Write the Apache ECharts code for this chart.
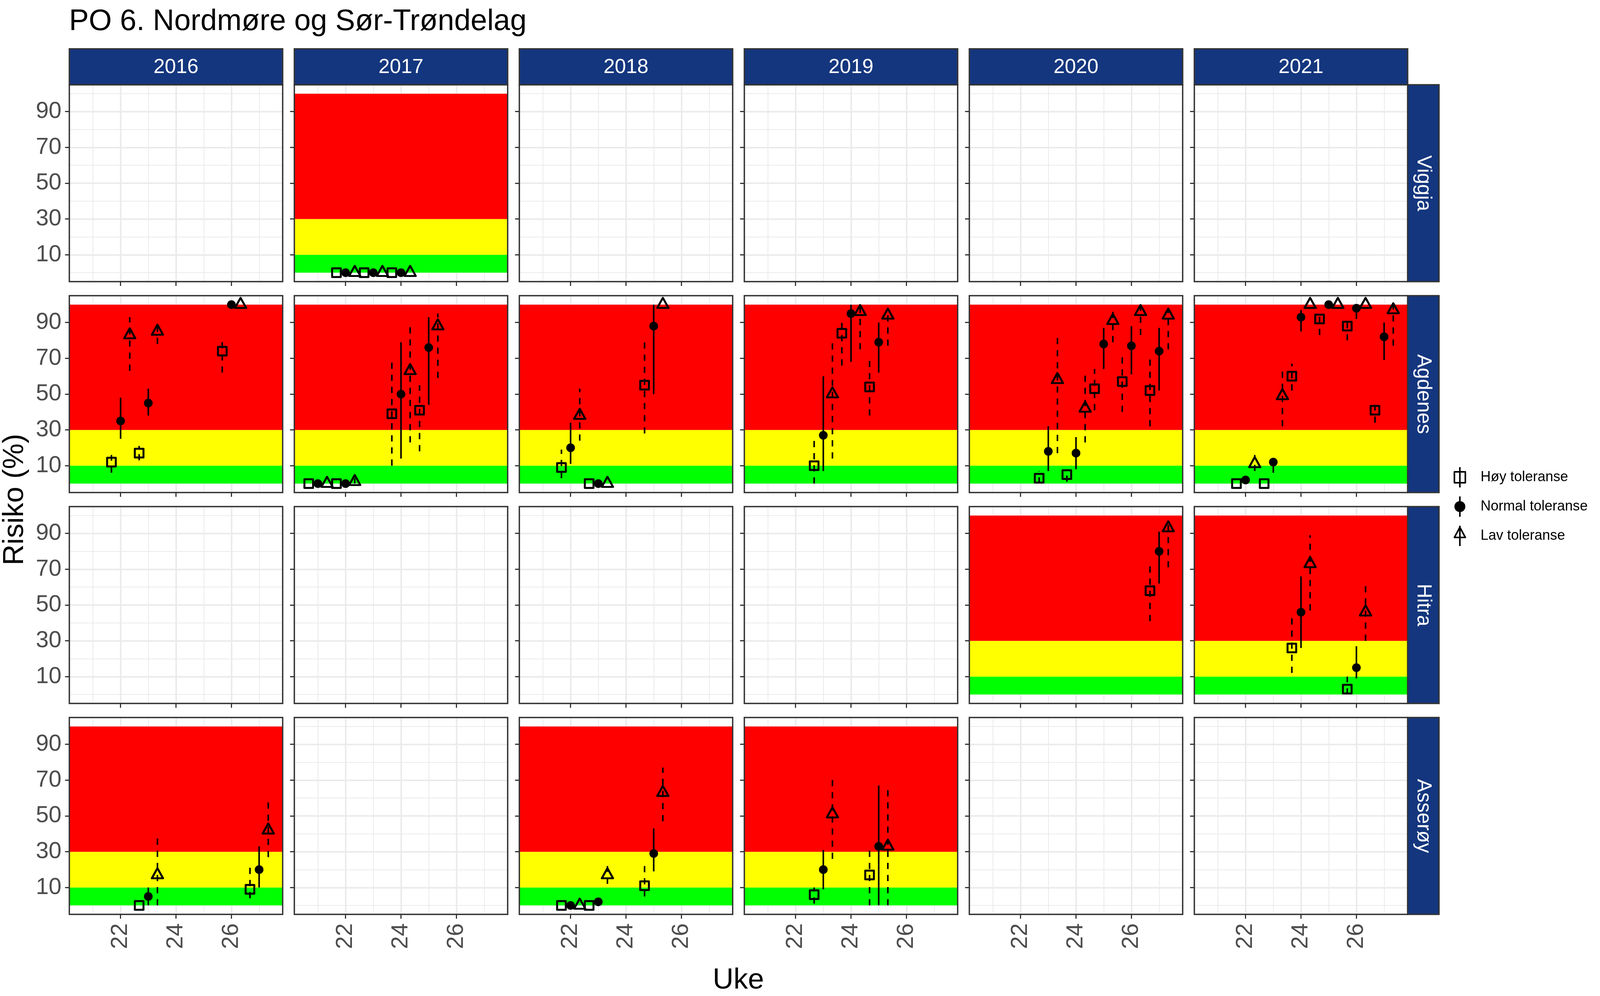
<!DOCTYPE html>
<html lang="no">
<head>
    <meta charset="UTF-8" />
    <title>PO 6. Nordmøre og Sør-Trøndelag</title>
    <script src="https://cdn.jsdelivr.net/npm/echarts@6/dist/echarts.min.js"></script>
    <style>
        html, body { margin: 0; padding: 0; background: #fff; overflow: hidden; }
        #chart { width: 100vw; height: 100vh; }
    </style>
</head>
<body>
<div id="chart"></div>
<script>
    const years = [2016, 2017, 2018, 2019, 2020, 2021];
    const sites = ['Viggja', 'Agdenes', 'Hitra', 'Asserøy'];
    const yMajor = [10, 30, 50, 70, 90];
    const yMinor = [0, 20, 40, 60, 80, 100];
    const xMajor = [22, 24, 26];
    const xMinor = [21, 23, 25, 27];

    // risk zones, bottom to top
    const zoneFrom = [0, 10, 30];
    const zoneTo = [10, 30, 100];
    const zoneColors = ['#00FF00', '#FFFF00', '#FF0000'];
    // panels that have the zones drawn
    const zonePanels = [
        ['Viggja', 2017],
        ['Agdenes', 2016], ['Agdenes', 2017], ['Agdenes', 2018], ['Agdenes', 2019], ['Agdenes', 2020], ['Agdenes', 2021],
        ['Hitra', 2020], ['Hitra', 2021],
        ['Asserøy', 2016], ['Asserøy', 2018], ['Asserøy', 2019]
    ];

    // [site, year, week, risk, low, high]
    const hoyRows = [
        ['Viggja', 2017, 22, 0, 0, 0], ['Viggja', 2017, 23, 0, 0, 0], ['Viggja', 2017, 24, 0, 0, 0],
        ['Agdenes', 2016, 22, 12, 6, 16], ['Agdenes', 2016, 23, 17, 13, 21], ['Agdenes', 2016, 26, 74, 62, 80],
        ['Agdenes', 2017, 21, 0, 0, 0], ['Agdenes', 2017, 22, 0, 0, 0], ['Agdenes', 2017, 24, 39, 10, 69], ['Agdenes', 2017, 25, 41, 18, 55],
        ['Agdenes', 2018, 22, 9, 3, 19], ['Agdenes', 2018, 23, 0, 0, 0], ['Agdenes', 2018, 25, 55, 28, 80],
        ['Agdenes', 2019, 23, 10, 0, 24], ['Agdenes', 2019, 24, 84, 66, 90], ['Agdenes', 2019, 25, 54, 38, 69],
        ['Agdenes', 2020, 23, 3, 0, 7], ['Agdenes', 2020, 24, 5, 1, 8], ['Agdenes', 2020, 25, 53, 41, 64], ['Agdenes', 2020, 26, 57, 40, 71], ['Agdenes', 2020, 27, 52, 32, 71],
        ['Agdenes', 2021, 22, 0, 0, 0], ['Agdenes', 2021, 23, 0, 0, 0], ['Agdenes', 2021, 24, 60, 52, 67], ['Agdenes', 2021, 25, 92, 83, 96], ['Agdenes', 2021, 26, 88, 80, 92], ['Agdenes', 2021, 27, 41, 34, 44],
        ['Hitra', 2020, 27, 58, 41, 72],
        ['Hitra', 2021, 24, 26, 12, 44], ['Hitra', 2021, 26, 3, 0, 10],
        ['Asserøy', 2016, 23, 0, 0, 0], ['Asserøy', 2016, 27, 9, 4, 21],
        ['Asserøy', 2018, 22, 0, 0, 0], ['Asserøy', 2018, 23, 0, 0, 0], ['Asserøy', 2018, 25, 11, 5, 22],
        ['Asserøy', 2019, 23, 6, 1, 10], ['Asserøy', 2019, 25, 17, 0, 31]
    ];
    const normalRows = [
        ['Viggja', 2017, 22, 0, 0, 0], ['Viggja', 2017, 23, 0, 0, 0], ['Viggja', 2017, 24, 0, 0, 0],
        ['Agdenes', 2016, 22, 35, 25, 48], ['Agdenes', 2016, 23, 45, 38, 53], ['Agdenes', 2016, 26, 100, 100, 100],
        ['Agdenes', 2017, 21, 0, 0, 0], ['Agdenes', 2017, 22, 0, 0, 0], ['Agdenes', 2017, 24, 50, 14, 79], ['Agdenes', 2017, 25, 76, 44, 93],
        ['Agdenes', 2018, 22, 20, 11, 34], ['Agdenes', 2018, 23, 0, 0, 0], ['Agdenes', 2018, 25, 88, 50, 100],
        ['Agdenes', 2019, 23, 27, 7, 60], ['Agdenes', 2019, 24, 95, 68, 100], ['Agdenes', 2019, 25, 79, 62, 90],
        ['Agdenes', 2020, 23, 18, 7, 32], ['Agdenes', 2020, 24, 17, 8, 26], ['Agdenes', 2020, 25, 78, 64, 87], ['Agdenes', 2020, 26, 77, 61, 88], ['Agdenes', 2020, 27, 74, 52, 87],
        ['Agdenes', 2021, 22, 2, 2, 2], ['Agdenes', 2021, 23, 12, 6, 14], ['Agdenes', 2021, 24, 93, 85, 97], ['Agdenes', 2021, 25, 100, 100, 100], ['Agdenes', 2021, 26, 98, 92, 100], ['Agdenes', 2021, 27, 82, 69, 90],
        ['Hitra', 2020, 27, 80, 62, 91],
        ['Hitra', 2021, 24, 46, 26, 66], ['Hitra', 2021, 26, 15, 9, 27],
        ['Asserøy', 2016, 23, 5, 0, 10], ['Asserøy', 2016, 27, 20, 10, 33],
        ['Asserøy', 2018, 22, 0, 0, 0], ['Asserøy', 2018, 23, 2, 2, 2], ['Asserøy', 2018, 25, 29, 19, 43],
        ['Asserøy', 2019, 23, 20, 9, 31], ['Asserøy', 2019, 25, 33, 0, 67]
    ];
    const lavRows = [
        ['Viggja', 2017, 22, 0, 0, 0], ['Viggja', 2017, 23, 0, 0, 0], ['Viggja', 2017, 24, 0, 0, 0],
        ['Agdenes', 2016, 22, 83, 63, 93], ['Agdenes', 2016, 23, 85, 78, 89], ['Agdenes', 2016, 26, 100, 100, 100],
        ['Agdenes', 2017, 21, 0, 0, 0], ['Agdenes', 2017, 22, 1, 0, 3], ['Agdenes', 2017, 24, 63, 23, 89], ['Agdenes', 2017, 25, 88, 59, 95],
        ['Agdenes', 2018, 22, 38, 24, 53], ['Agdenes', 2018, 23, 0, 0, 0], ['Agdenes', 2018, 25, 100, 100, 100],
        ['Agdenes', 2019, 23, 50, 14, 79], ['Agdenes', 2019, 24, 96, 75, 100], ['Agdenes', 2019, 25, 94, 77, 98],
        ['Agdenes', 2020, 23, 58, 17, 83], ['Agdenes', 2020, 24, 42, 23, 61], ['Agdenes', 2020, 25, 91, 79, 97], ['Agdenes', 2020, 26, 96, 83, 100], ['Agdenes', 2020, 27, 94, 75, 98],
        ['Agdenes', 2021, 22, 11, 7, 16], ['Agdenes', 2021, 23, 49, 32, 64], ['Agdenes', 2021, 24, 100, 100, 100], ['Agdenes', 2021, 25, 100, 100, 100], ['Agdenes', 2021, 26, 100, 100, 100], ['Agdenes', 2021, 27, 97, 77, 100],
        ['Hitra', 2020, 27, 93, 71, 96],
        ['Hitra', 2021, 24, 73, 47, 89], ['Hitra', 2021, 26, 46, 30, 61],
        ['Asserøy', 2016, 23, 17, 0, 38], ['Asserøy', 2016, 27, 42, 27, 58],
        ['Asserøy', 2018, 22, 0, 0, 0], ['Asserøy', 2018, 23, 17, 12, 22], ['Asserøy', 2018, 25, 63, 47, 77],
        ['Asserøy', 2019, 23, 51, 26, 71], ['Asserøy', 2019, 25, 33, 0, 66]
    ];

    const FONT = '"Liberation Sans", Arial, sans-serif';
    const AXIS_DARK = '#333333';
    const STRIP_BLUE = '#14367E';

    // the layout was measured on a 4800 wide picture, the window may be narrower
    const sx = window.innerWidth / 4800;
    const ms = Math.sqrt(sx);
    const panelLeft = 208 * sx, panelTop = 217, panelW = 640 * sx, panelH = 504, stepX = 675 * sx, stepY = 540;
    const dodge = 0.33;

    const tolerances = [
        {
            name: 'Høy toleranse', rows: hoyRows, shift: -dodge, dash: [16, 15],
            symbol: 'rect', size: 24 * ms, offset: [0, 0], color: 'rgba(0,0,0,0)', border: 5,
            icon: 'path://M18 0V52M4 12H32V40H4Z'
        },
        {
            name: 'Normal toleranse', rows: normalRows, shift: 0, dash: null,
            symbol: 'circle', size: 24 * ms, offset: [0, 0], color: '#000', border: 0,
            icon: 'path://M18 0V52M30 26A12 12 0 1 1 6 26A12 12 0 1 1 30 26Z'
        },
        {
            name: 'Lav toleranse', rows: lavRows, shift: dodge, dash: [16, 15],
            symbol: 'triangle', size: [31 * ms, 28 * ms], offset: [0, -4.5], color: 'rgba(0,0,0,0)', border: 5,
            icon: 'path://M18 0V52M18 4L32 30H4Z'
        }
    ];

    function renderZone(params, api) {
        const c = params.coordSys;
        const top = api.coord([20.15, api.value(1)])[1];
        const bottom = api.coord([20.15, api.value(0)])[1];
        return {
            type: 'rect',
            shape: { x: c.x, y: top, width: c.width, height: bottom - top },
            style: { fill: zoneColors[params.dataIndex] }
        };
    }

    function makeBarRenderer(dash) {
        return function (params, api) {
            const low = api.coord([api.value(0), api.value(1)]);
            const high = api.coord([api.value(0), api.value(2)]);
            return {
                type: 'line',
                shape: { x1: low[0], y1: low[1], x2: high[0], y2: high[1] },
                style: { stroke: '#000', lineWidth: 4, lineDash: dash }
            };
        };
    }

    const grids = [], xAxes = [], yAxes = [], series = [], graphics = [];

    sites.forEach((site, r) => {
        years.forEach((year, c) => {
            const g = grids.length;
            grids.push({
                left: panelLeft + c * stepX, top: panelTop + r * stepY,
                width: panelW, height: panelH, show: true,
                backgroundColor: '#fff', borderWidth: 0
            });
            const bottomRow = r === sites.length - 1;
            xAxes.push({
                type: 'value', gridIndex: g, min: 20.15, max: 27.85, position: 'bottom',
                axisLine: { show: false, onZero: false },
                axisTick: { show: true, length: 11, customValues: xMajor, lineStyle: { color: AXIS_DARK, width: 3 } },
                axisLabel: {
                    show: bottomRow, customValues: xMajor, rotate: 90, margin: 23, padding: [8, 0, 0, 0],
                    color: '#4D4D4D', fontSize: 64 * ms, fontFamily: FONT
                },
                splitLine: { show: true, lineStyle: { color: '#EBEBEB', width: 4 } }
            }, {
                type: 'value', gridIndex: g, min: 20.15, max: 27.85, position: 'bottom',
                axisLine: { show: false, onZero: false },
                axisTick: { show: false, customValues: xMinor },
                axisLabel: { show: false },
                splitLine: { show: true, lineStyle: { color: '#EBEBEB', width: 2 } }
            });
            yAxes.push({
                type: 'value', gridIndex: g, min: -5, max: 105, position: 'left',
                axisLine: { show: false },
                axisTick: { show: true, length: 11, customValues: yMajor, lineStyle: { color: AXIS_DARK, width: 3 } },
                axisLabel: {
                    show: c === 0, customValues: yMajor, margin: 20, padding: [6, 0, 0, 0],
                    color: '#4D4D4D', fontSize: 64 * ms, fontFamily: FONT
                },
                splitLine: { show: true, lineStyle: { color: '#EBEBEB', width: 4 } }
            }, {
                type: 'value', gridIndex: g, min: -5, max: 105, position: 'left',
                axisLine: { show: false },
                axisTick: { show: false, customValues: yMinor },
                axisLabel: { show: false },
                splitLine: { show: true, lineStyle: { color: '#EBEBEB', width: 2 } }
            });

            const xIndex = g * 2, yIndex = g * 2;
            if (zonePanels.some(p => p[0] === site && p[1] === year)) {
                series.push({
                    type: 'custom', xAxisIndex: xIndex, yAxisIndex: yIndex, z: 1, silent: true,
                    renderItem: renderZone, clip: false,
                    data: zoneFrom.map((from, i) => [from, zoneTo[i]]),
                    encode: { y: [0, 1] }
                });
            }

            tolerances.forEach(t => {
                const rows = t.rows.filter(d => d[0] === site && d[1] === year);
                if (!rows.length) return;
                series.push({
                    type: 'custom', xAxisIndex: xIndex, yAxisIndex: yIndex, z: 3, silent: true,
                    renderItem: makeBarRenderer(t.dash),
                    data: rows.map(d => [d[2] + t.shift, d[4], d[5]]),
                    encode: { x: 0, y: [1, 2] }
                });
                series.push({
                    name: t.name, type: 'scatter', xAxisIndex: xIndex, yAxisIndex: yIndex, z: 4, silent: true,
                    symbol: t.symbol, symbolSize: t.size, symbolOffset: t.offset,
                    itemStyle: { color: t.color, borderColor: '#000', borderWidth: t.border, borderJoin: 'round', opacity: 1 },
                    data: rows.map(d => [d[2] + t.shift, d[3]])
                });
            });

            // panel border on top of the zones
            graphics.push({
                type: 'rect', z: 50, silent: true,
                shape: { x: panelLeft + c * stepX, y: panelTop + r * stepY, width: panelW, height: panelH },
                style: { fill: 'none', stroke: AXIS_DARK, lineWidth: 3.5 }
            });
        });
    });

    // column strips
    years.forEach((year, c) => {
        const x = panelLeft + c * stepX;
        graphics.push({
            type: 'rect', z: 50, silent: true,
            shape: { x: x, y: 125, width: panelW, height: 92 },
            style: { fill: STRIP_BLUE, stroke: AXIS_DARK, lineWidth: 3.5 }
        }, {
            type: 'text', z: 51, silent: true, x: x + panelW / 2, y: 173,
            style: { text: String(year), fill: '#fff', font: (56 * ms) + 'px ' + FONT, align: 'center', verticalAlign: 'middle' }
        });
    });

    // row strips
    sites.forEach((site, r) => {
        const y = panelTop + r * stepY;
        const x = panelLeft + (years.length - 1) * stepX + panelW;
        graphics.push({
            type: 'rect', z: 50, silent: true,
            shape: { x: x, y: y, width: 94 * sx, height: panelH },
            style: { fill: STRIP_BLUE, stroke: AXIS_DARK, lineWidth: 3.5 }
        }, {
            type: 'text', z: 51, silent: true, x: x + 47 * sx, y: y + panelH / 2, rotation: -Math.PI / 2,
            style: { text: site, fill: '#fff', font: (56 * ms) + 'px ' + FONT, align: 'center', verticalAlign: 'middle' }
        });
    });

    // axis titles
    graphics.push({
        type: 'text', silent: true, x: 2215 * sx, y: 2511,
        style: { text: 'Uke', fill: '#000', font: (80 * ms) + 'px ' + FONT, align: 'center', verticalAlign: 'middle' }
    }, {
        type: 'text', silent: true, x: 45 * sx, y: 1279, rotation: Math.PI / 2,
        style: { text: 'Risiko (%)', fill: '#000', font: (80 * ms) + 'px ' + FONT, align: 'center', verticalAlign: 'middle' }
    });

    // legend key is centred in itemWidth, the text starts 5 px after it
    const legendKeyX = 4417 * sx, legendTextX = 4479 * sx;
    const legendItemW = 2 * (legendTextX - 5 - legendKeyX);

    const chart = echarts.init(document.getElementById('chart'), null, { renderer: 'canvas' });
    chart.setOption({
        animation: false,
        backgroundColor: '#fff',
        title: {
            text: 'PO 6. Nordmøre og Sør-Trøndelag', left: 207 * sx, top: 18, padding: 0,
            textStyle: { color: '#000', fontSize: 82 * ms, fontWeight: 'normal', fontFamily: FONT }
        },
        legend: {
            orient: 'vertical', left: legendKeyX - legendItemW / 2, top: 1194, padding: 0,
            itemWidth: legendItemW, itemHeight: 52, itemGap: 19, selectedMode: false,
            textStyle: { color: '#000', fontSize: 39 * ms, fontFamily: FONT },
            data: tolerances.map(t => ({
                name: t.name, icon: t.icon,
                itemStyle: { color: t.color, borderColor: '#000', borderWidth: 4 }
            }))
        },
        grid: grids,
        xAxis: xAxes,
        yAxis: yAxes,
        series: series,
        graphic: graphics
    });
</script>
</body>
</html>
